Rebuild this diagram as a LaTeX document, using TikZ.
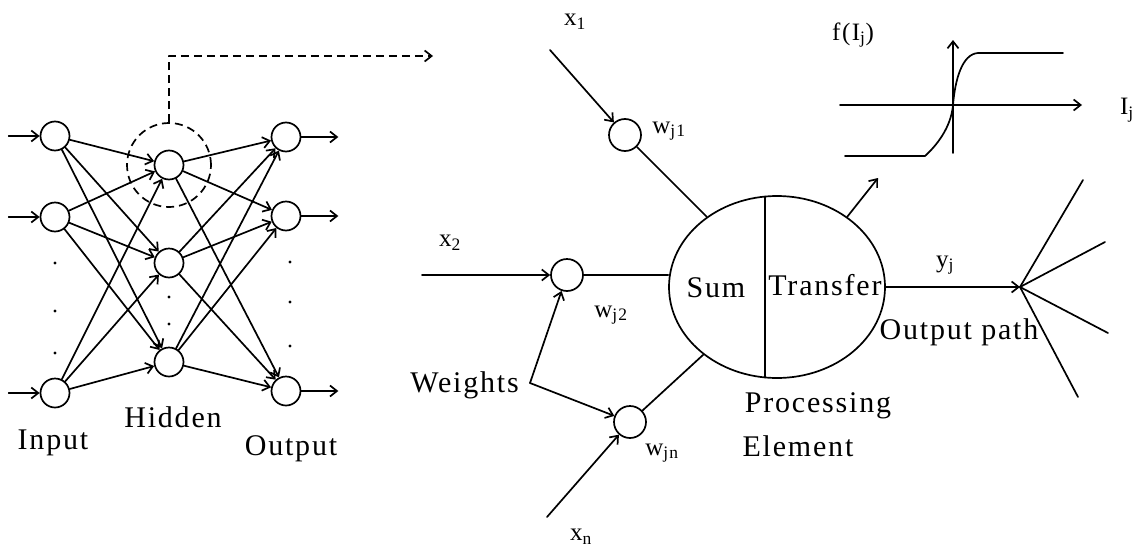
\documentclass[tikz,border=0pt]{standalone}
\usepackage{fontspec}
\setmainfont{Liberation Serif}[LetterSpace=6]
\usetikzlibrary{arrows.meta,shapes.geometric}

\begin{document}
\begin{tikzpicture}[
  x=1pt,
  y=-1pt,
  line join=round,
  line cap=round,
  unit/.style={draw,circle,line width=1.7pt,minimum size=29pt,inner sep=0pt},
  weightnode/.style={draw,circle,line width=1.7pt,minimum size=32pt,inner sep=0pt},
  link/.style={draw,line width=1.7pt,-{Straight Barb[length=7pt,width=11pt]}},
  wire/.style={draw,line width=1.7pt},
  zoomed/.style={line width=1.7pt,dash pattern=on 8pt off 5pt,line cap=butt},
  word/.style={font=\fontsize{30}{34}\selectfont,inner sep=0pt},
  sym/.style={font=\fontsize{25}{28}\selectfont,inner sep=0pt}
]
  \useasboundingbox (0,0) rectangle (1143,549);

  % Layered network: input, hidden and output units.
  \node[unit] (i1) at (55,136) {};
  \node[unit] (i2) at (55,217) {};
  \node[unit] (i3) at (55,393) {};
  \node[unit] (h1) at (169,165) {};
  \node[unit] (h2) at (169,263) {};
  \node[unit] (h3) at (169,362) {};
  \node[unit] (o1) at (286,137) {};
  \node[unit] (o2) at (286,216) {};
  \node[unit] (o3) at (286,391) {};

  % Every unit feeds every unit of the next layer.
  \foreach \a in {i1,i2,i3} {
    \foreach \b in {h1,h2,h3} {
      \draw[link] (\a) -- (\b);
    }
  }
  \foreach \a in {h1,h2,h3} {
    \foreach \b in {o1,o2,o3} {
      \draw[link] (\a) -- (\b);
    }
  }
  \foreach \n in {1,2,3} {
    \draw[link] (i\n.west) ++(-31,0) -- (i\n.west);
    \draw[link] (o\n.east) -- ++(37,0);
  }

  % Elided units.
  \foreach \y in {263,311,353} {
    \fill (55,\y) circle[radius=1.7];
  }
  \foreach \y in {297,324} {
    \fill (169,\y) circle[radius=1.7];
  }
  \foreach \y in {262,302,346} {
    \fill (290,\y) circle[radius=1.7];
  }

  \node[word] (inlabel) at (53,443) {Input};
  \node[word] (hidlabel) at (173,417) {Hidden};
  \node[word] (outlabel) at (291,449) {Output};

  % One hidden unit is blown up on the right.
  \node[draw,circle,zoomed,minimum size=84pt,inner sep=0pt] (focus) at (h1) {};
  \draw[zoomed,-{Straight Barb[length=7pt,width=11pt]}] (focus.north) |- (433,56);

  % Weighted inputs of the processing element.
  \node[weightnode] (w1) at (625,135) {};
  \node[weightnode] (w2) at (567,275) {};
  \node[weightnode] (wn) at (630,422) {};
  \node[draw,ellipse,line width=1.7pt,minimum width=216pt,minimum height=182pt,inner sep=0pt] (pe) at (777,287) {};
  \draw[wire] (765,196.6) -- (765,377.4);

  \coordinate (x1) at (550,50);
  \coordinate (x2) at (422,275);
  \coordinate (xn) at (547,517);
  \draw[link] (x1) -- (w1);
  \draw[link] (x2) -- (w2);
  \draw[link] (xn) -- (wn);
  \draw[wire] (w1) -- (pe);
  \draw[wire] (w2) -- (w2 -| pe.west);
  \draw[wire] (wn) -- (pe);

  \node[word,anchor=east] (weights) at (519,385) {Weights};
  \coordinate (wcorner) at (530,383);
  \draw[link] (wcorner) -- (w2);
  \draw[link] (wcorner) -- (wn);

  \node[sym] (x1label) at (575,22) {x\textsubscript{1}};
  \node[sym] (x2label) at (450,243) {x\textsubscript{2}};
  \node[sym] (xnlabel) at (581,537) {x\textsubscript{n}};
  \node[sym] (w1label) at (669,131) {w\textsubscript{j1}};
  \node[sym] (w2label) at (611,315) {w\textsubscript{j2}};
  \node[sym] (wnlabel) at (662,453) {w\textsubscript{jn}};

  \node[word] (sumlabel) at (716,288) {Sum};
  \node[word] (translabel) at (825,285) {Transfer};
  \node[word] (proclabel) at (818,406) {Processing};
  \node[word] (elemlabel) at (798,446) {Element};

  % Transfer function sketch.
  \coordinate (tf) at (878,178);
  \draw[link] (pe.45) -- (tf);
  \draw[link] (840,105) -- (1082,105);
  \draw[link] (953,153) -- (953,40);
  \draw[wire] (845,156) -- (925,156)
    .. controls (936,146) and (951,128) .. (953,105)
    .. controls (955,80) and (962,54) .. (978,53) -- (1063,53);
  \node[sym] (flabel) at (853,35) {f(I\textsubscript{j})};
  \node[sym] (ilabel) at (1127,110) {I\textsubscript{j}};

  % Output path fanning out.
  \coordinate (fan) at (1020,287);
  \draw[link] (pe.east) -- (fan);
  \node[sym] (ylabel) at (945,265) {y\textsubscript{j}};
  \node[word] (pathlabel) at (959,332) {Output path};
  \foreach \p in {(1083,180),(1105,242),(1108,333),(1078,397)} {
    \draw[wire] (fan) -- \p;
  }
\end{tikzpicture}
\end{document}
